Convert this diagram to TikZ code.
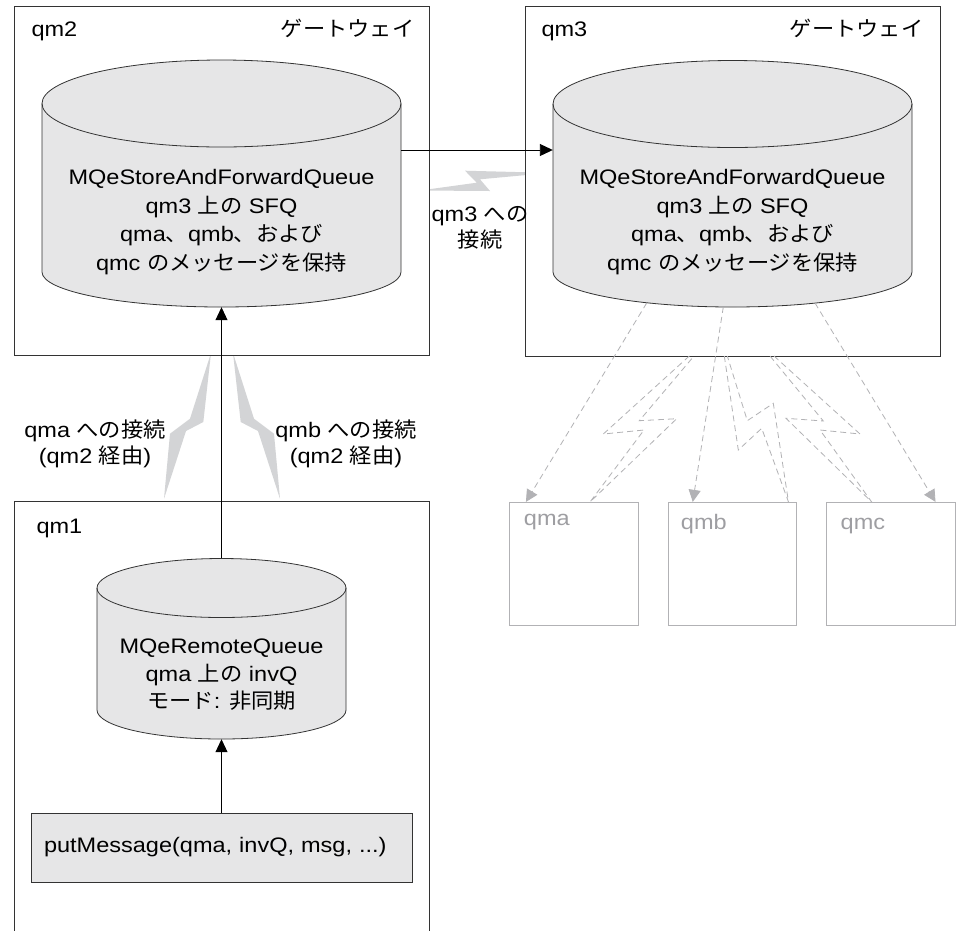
\documentclass[tikz,border=0pt]{standalone}
\usepackage{fontspec}
\setmainfont{Liberation Sans}[FakeStretch=1.12]
\newfontfamily\jpfont{Noto Sans CJK JP}[FakeStretch=1.06]
\newcommand\J[1]{{\jpfont #1}}
\usetikzlibrary{arrows.meta}

\definecolor{linegray}{HTML}{333333}
\definecolor{cylfill}{HTML}{E6E6E7}
\definecolor{boltgray}{HTML}{D3D4D6}
\definecolor{faint}{HTML}{B2B2B5}
\definecolor{fainttext}{HTML}{9E9EA2}

% vertical cylinder: centre x, half width, top-ellipse centre y and radius,
% bottom-ellipse centre y and radius
\newcommand\queuecyl[6]{%
  \filldraw[cylline]
    ({#1-#2},#3) -- ({#1-#2},#5)
    arc[start angle=180, end angle=360, x radius=#2pt, y radius=#6pt]
    -- ({#1+#2},#3)
    arc[start angle=0, end angle=180, x radius=#2pt, y radius=#4pt] -- cycle;
  \draw[cylline, fill=none] ({#1-#2},#3)
    arc[start angle=180, end angle=360, x radius=#2pt, y radius=#4pt];
}

\tikzset{
  base/.style={font=\fontsize{21}{28.5}\selectfont},
  gw/.style={draw=linegray, line width=1pt, fill=white},
  cylline/.style={draw=linegray, line width=0.8pt, fill=cylfill},
  area/.style={inner sep=0pt, draw=none},
  cyltext/.style={base, align=center, inner sep=0pt},
  conn/.style={draw=black, line width=0.9pt, -{Triangle[length=13pt, width=12pt]}},
  boltfill/.style={fill=boltgray, draw=none},
  remote/.style={draw=faint, line width=1pt, fill=white, inner sep=0pt},
  dashconn/.style={draw=faint, line width=0.8pt, dash pattern=on 6pt off 4pt,
    -{Triangle[length=12pt, width=12pt]}},
  dashbolt/.style={draw=faint, line width=0.8pt, dash pattern=on 6pt off 4pt},
}

\begin{document}
\begin{tikzpicture}[x=1pt, y=-1pt]
\useasboundingbox[fill=white] (0,0) rectangle (957,930);

% lightning between the gateways
\fill[boltfill] (420,190.5) -- (476.7,182.7) -- (465,170.7) -- (535,172.5)
  -- (535,174.2) -- (480,179.3) -- (490,191) -- cycle;
% lightning between qm1 and qm2
\fill[boltfill] (211,353) -- (190,418.7) -- (170,433.7) -- (164,498.7)
  -- (186,431) -- (203.3,422) -- cycle;
\fill[boltfill] (233,353) -- (254,418.7) -- (274,433.7) -- (280,498.7)
  -- (258,431) -- (240.7,422) -- cycle;

% queue managers
\node[gw, minimum width=415pt, minimum height=349pt] (qm2) at (221.5,180.5) {};
\node[gw, minimum width=415pt, minimum height=350pt] (qm3) at (732.5,181) {};
\node[area, fill=white, minimum width=414pt, minimum height=440pt] (qm1) at (222,722) {};
\draw[linegray, line width=1pt] (qm1.south west) -- (qm1.north west)
  -- (qm1.north east) -- (qm1.south east);

\node[base, anchor=base west] (qm2name) at (28,36) {qm2};
\node[base, anchor=base east] (qm2gw) at (418,36) {\J{ゲートウェイ}};
\node[base, anchor=base west] (qm3name) at (538,36) {qm3};
\node[base, anchor=base east] (qm3gw) at (927,36) {\J{ゲートウェイ}};
\node[base, anchor=base west] (qm1name) at (33,533) {qm1};

% queues
\queuecyl{221.5}{179.5}{103.5}{43.5}{272}{35}
\queuecyl{732.5}{179.5}{104}{43.5}{272}{35}
\queuecyl{221.5}{124.5}{588}{29.5}{710}{29}

\node[area, minimum width=359pt, minimum height=247pt] (cyl2) at (221.5,183.5) {};
\node[area, minimum width=359pt, minimum height=247pt] (cyl3) at (732.5,183.5) {};
\node[area, minimum width=249pt, minimum height=180.5pt] (cyl1) at (221.5,648.75) {};

\node[cyltext] (sfq2) at (221.5,222) {MQeStoreAndForwardQueue\\
  qm3 \J{上の} SFQ\\ qma\J{、}qmb\J{、および}\\ qmc \J{のメッセージを保持}};
\node[cyltext] (sfq3) at (732.5,222) {MQeStoreAndForwardQueue\\
  qm3 \J{上の} SFQ\\ qma\J{、}qmb\J{、および}\\ qmc \J{のメッセージを保持}};
\node[cyltext, font=\fontsize{21}{27.5}\selectfont] (rq1) at (221.5,675)
  {MQeRemoteQueue\\ qma \J{上の} invQ\\ \J{モード}: \J{非同期}};

% application call
\node[draw=linegray, line width=0.8pt, fill=cylfill, base, minimum height=69pt,
  text width=355pt, inner xsep=13pt, align=left] (pm) at (221.5,847.5)
  {putMessage(qma, invQ, msg, ...)};

% connection labels
\node[base, align=center, font=\fontsize{21}{26}\selectfont] (l3) at (480,228)
  {qm3 \J{への}\\ \J{接続}};
\node[base, align=center, font=\fontsize{21}{26}\selectfont] (la) at (95,444)
  {qma \J{への接続}\\ (qm2 \J{経由})};
\node[base, align=center, font=\fontsize{21}{26}\selectfont] (lb) at (346,444)
  {qmb \J{への接続}\\ (qm2 \J{経由})};

% connectors
\draw[conn] ([yshift=33.5pt]cyl2.east) -- ([yshift=33.5pt]cyl3.west);
\draw[conn] (cyl1.north) -- (cyl2.south);
\draw[conn] (pm.north) -- (cyl1.south);

% remote queue managers
\node[remote, minimum width=128.5pt, minimum height=122.7pt] (qma) at (574.2,563.7) {};
\node[remote, minimum width=128.5pt, minimum height=122.7pt] (qmb) at (732.5,563.7) {};
\node[remote, minimum width=129pt, minimum height=122.7pt] (qmc) at (891.2,563.7) {};
\node[base, text=fainttext, anchor=base west] (qmaname) at ([xshift=11pt, yshift=-24pt]qma.north west) {qma};
\node[base, text=fainttext, anchor=base west] (qmbname) at ([xshift=9.7pt, yshift=-28pt]qmb.north west) {qmb};
\node[base, text=fainttext, anchor=base west] (qmcname) at ([xshift=11pt, yshift=-28pt]qmc.north west) {qmc};

\coordinate (da) at (646.7,303);
\coordinate (db) at (723.3,307);
\coordinate (dc) at (815,303);
\draw[dashconn] (da) -- ([xshift=16.5pt]qma.north west);
\draw[dashconn] (db) -- ([xshift=25pt]qmb.north west);
\draw[dashconn] (dc) -- ([xshift=-20.7pt]qmc.north east);

% dashed lightning towards qma, qmb and qmc
\draw[dashbolt] (689.3,356) -- (603.3,434) -- (644,430) -- (590,502)
  -- (676.7,418.7) -- (639.3,420.7) -- (694,356);
\draw[dashbolt] (724.3,356) -- (738.3,450) -- (761.7,428.3) -- (788.5,502)
  -- (773.3,403.3) -- (747.3,420.7) -- (727.3,356);
\draw[dashbolt] (774,356) -- (860,434) -- (820,430) -- (871.7,502)
  -- (786,418.3) -- (823.3,421) -- (770,356);
\end{tikzpicture}
\end{document}
